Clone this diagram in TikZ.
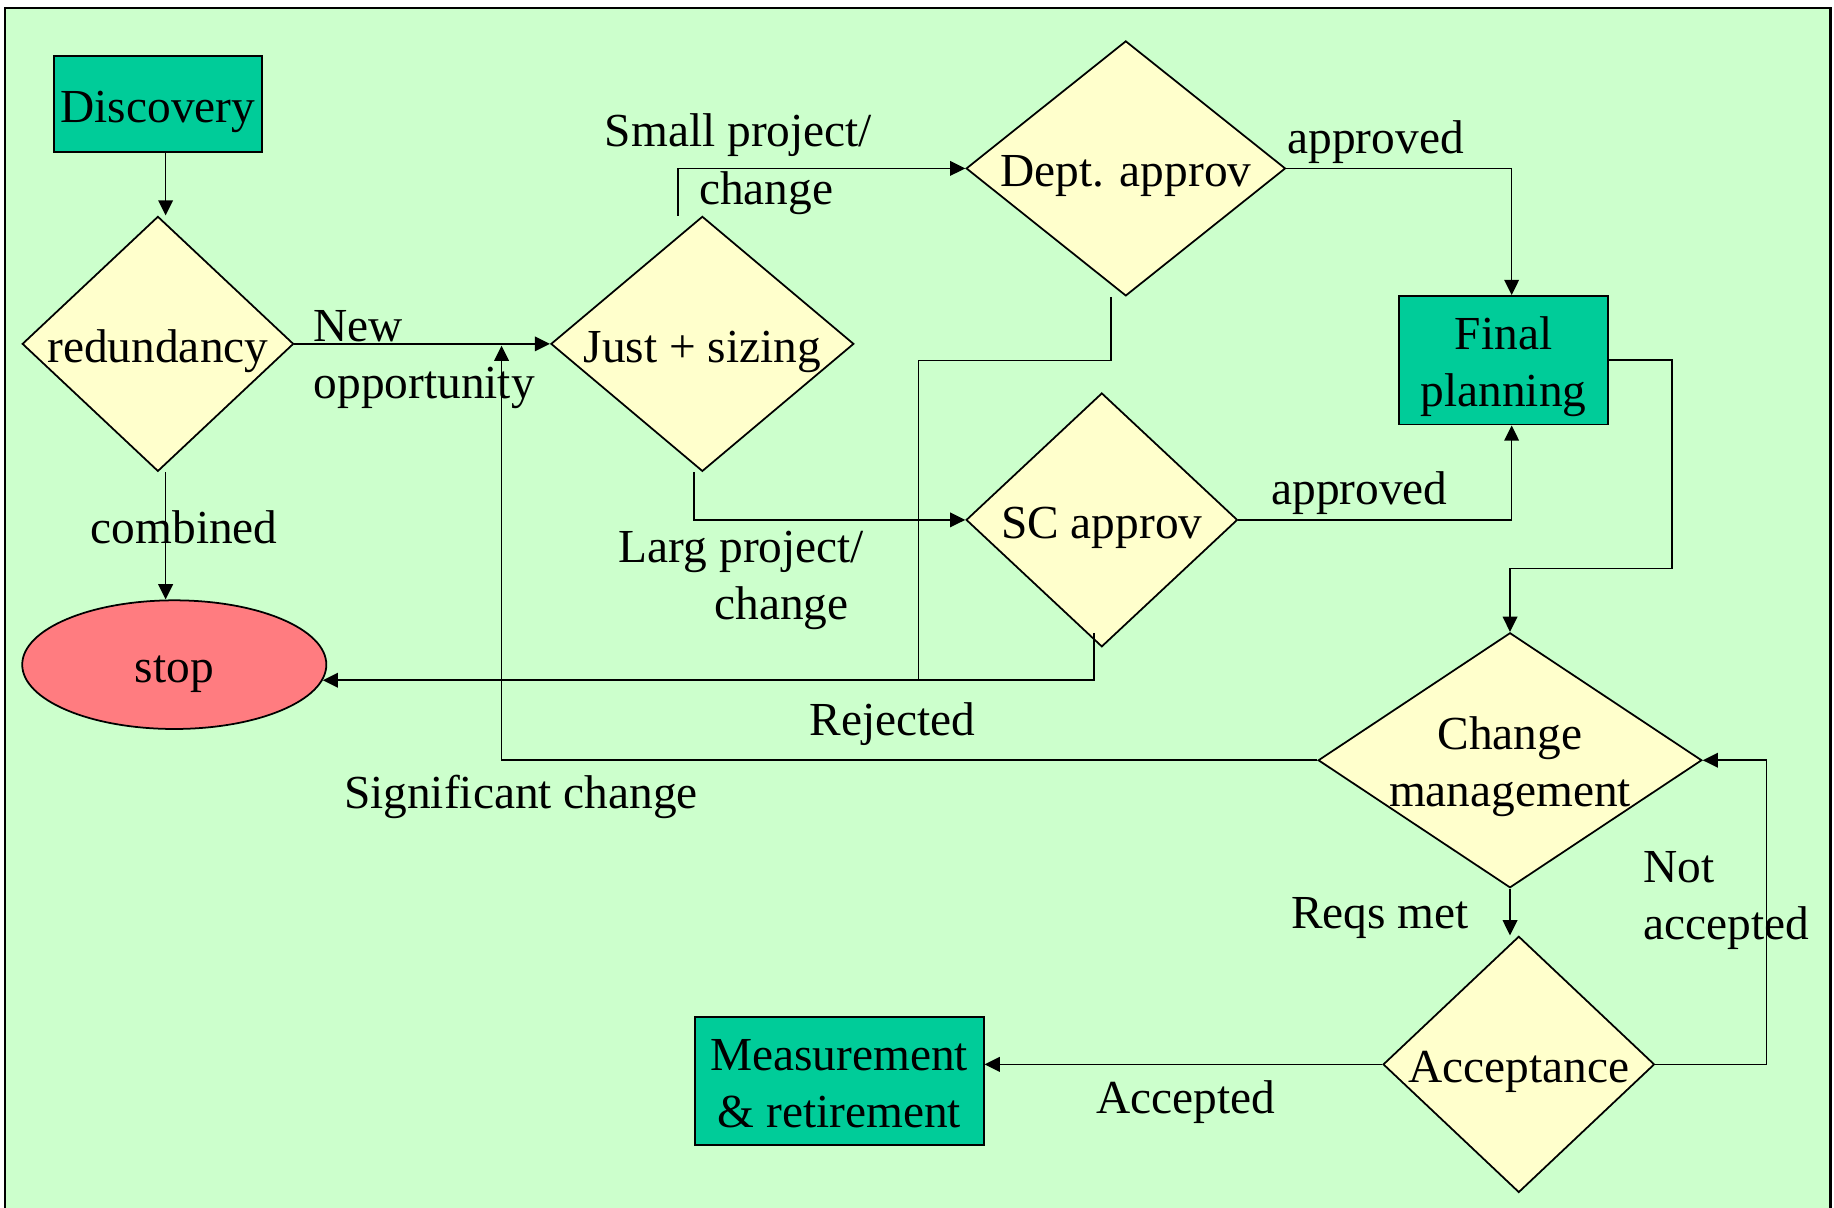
\documentclass[tikz,border=0pt]{standalone}
\usepackage{fontspec}
\setmainfont{Liberation Serif}
\usetikzlibrary{shapes.geometric,arrows.meta}
\definecolor{bggreen}{HTML}{CCFFCC}
\definecolor{dfill}{HTML}{FFFFCC}
\definecolor{tealbox}{HTML}{00CC99}
\definecolor{stopred}{HTML}{FF7C80}
\newcommand\zc[1]{\makebox[0pt]{\begin{tabular}{@{}c@{}}#1\end{tabular}}}
\newcommand\lt[1]{\begin{tabular}{@{}l@{}}#1\end{tabular}}
\begin{document}
\begin{tikzpicture}[x=1pt,y=-1pt,
  every node/.style={font=\fontsize{40.5}{48.8}\selectfont, inner sep=0pt, text height=32pt, text depth=3pt},
  shp/.style={draw, line width=1.5pt, text height=30pt, text depth=6pt},
  dia/.style={diamond, shp, fill=dfill},
  boxn/.style={rectangle, shp, fill=tealbox},
  lbl/.style={anchor=west},
  conn/.style={line width=1.4pt},
  arr/.style={conn, -{Triangle[length=13pt,width=12.5pt]}}]
\useasboundingbox (0,0) rectangle (1568,1032);
\fill[white] (0,0) rectangle (1568,1032);
\begin{scope}
\clip (0,0) rectangle (1568,1032);
\draw[fill=bggreen, line width=1.8pt] (4.6,6.5) rectangle (1565,1045);
\end{scope}

% shapes
\node[boxn, minimum width=178pt, minimum height=82pt] (disc) at (135,89) {\zc{Discovery}};
\node[dia, minimum width=232pt, minimum height=218pt] (red) at (135,294) {\zc{redundancy}};
\node[dia, minimum width=259pt, minimum height=218pt] (js) at (600.5,294) {\zc{Just + sizing}};
\node[dia, minimum width=273pt, minimum height=218pt] (dept) at (962.5,144) {\zc{Dept. approv}};
\node[dia, minimum width=232pt, minimum height=217pt] (sc) at (942,444.5) {\zc{SC approv}};
\node[boxn, minimum width=179pt, minimum height=110pt] (fp) at (1285.5,308) {\zc{Final\\planning}};
\node[dia, minimum width=328pt, minimum height=218pt] (cm) at (1291,650) {\zc{Change\\management}};
\node[dia, minimum width=232pt, minimum height=219pt] (acc) at (1298.5,910) {\zc{Acceptance}};
\node[boxn, minimum width=247pt, minimum height=109.5pt] (meas) at (717.5,924.3) {\zc{Measurement\\\& retirement}};
\node[ellipse, shp, fill=stopred, minimum width=260pt, minimum height=110pt] (stop) at (149,568.25) {\zc{stop}};

% helper coordinates
\coordinate (cA) at (141.6,0);
\coordinate (cSm) at (579.7,0);
\coordinate (cLg) at (593.3,0);
\coordinate (cR) at (1292.4,0);
\coordinate (cD) at (949.6,0);
\coordinate (fo1) at (1429.4,485.9);
\coordinate (rj1) at (785.2,308.3);
\coordinate (rj2) at (785.2,582);
\coordinate (scb) at (935.5,541);
\coordinate (sg) at (428.8,295.5);
\coordinate (na) at (1510.2,650);

% connectors
\draw[arr] (disc.south -| cA) -- (red.north -| cA);
\draw[arr] (red.south -| cA) -- (stop.north -| cA);
\draw[arr] (red.east) -- (js.west);
\draw[arr] (js.north -| cSm) |- (dept.west);
\draw[arr] (js.south -| cLg) |- (sc.west);
\draw[arr] (dept.east) -| (fp.north -| cR);
\draw[arr] (sc.east) -| (fp.south -| cR);
\draw[arr] (fp.east) -| (fo1) -| (cm.north);
\draw[conn] (dept.south -| cD) |- (rj1) -- (rj2);
\draw[arr] (scb) |- (stop.-6.4);
\draw[arr] (cm.west) -| (sg);
\draw[arr] (cm.south) -- (acc.north -| cm.south);
\draw[arr] (acc.east) -| (na) -- (cm.east);
\draw[arr] (acc.west) -- (meas.east |- acc.west);

% labels
\node[lbl] (lNew) at (268,298.5) {\lt{New\\opportunity}};
\node[lbl] (lSmall) at (517,132) {\lt{Small project/\\\hspace*{80.6pt}change}};
\node[lbl] (lAp1) at (1100.6,116.5) {approved};
\node[lbl] (lAp2) at (1086.7,416.5) {approved};
\node[lbl] (lComb) at (77.4,450.5) {combined};
\node[lbl] (lLarg) at (529,487) {\lt{Larg project/\\\hspace*{81.7pt}change}};
\node[lbl] (lRej) at (692,614.5) {Rejected};
\node[lbl] (lSig) at (294,676.5) {Significant change};
\node[lbl] (lReq) at (1103.8,779.2) {Reqs met};
\node[lbl] (lNot) at (1404.8,760.5) {\lt{Not\\accepted}};
\node[lbl] (lAcc) at (936.9,937.1) {Accepted};
\end{tikzpicture}
\end{document}
